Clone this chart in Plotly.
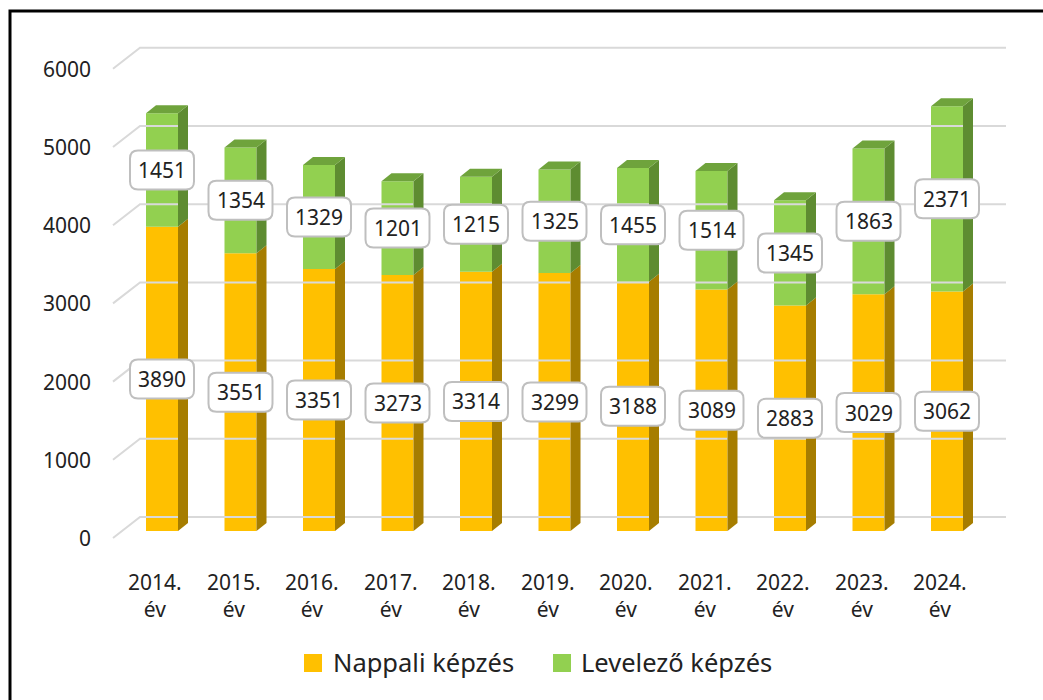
import plotly.graph_objects as go

# ---------------- data ----------------
years = ["2014.", "2015.", "2016.", "2017.", "2018.", "2019.", "2020.", "2021.", "2022.", "2023.", "2024."]
year_suffix = "év"
nappali = [3890, 3551, 3351, 3273, 3314, 3299, 3188, 3089, 2883, 3029, 3062]
levelezo = [1451, 1354, 1329, 1201, 1215, 1325, 1455, 1514, 1345, 1863, 2371]
series_names = ["Nappali képzés", "Levelező képzés"]
y_ticks = [0, 1000, 2000, 3000, 4000, 5000, 6000]

# ---------------- styling / geometry ----------------
W, H = 1043, 700
X0_PX = 162.0        # pixel of first category (bar front centre)
CAT_PX = 78.5        # pixels per category
ZERO_PX = 531.0      # pixel of value 0 on bar front plane
UNIT_PX = 0.0782     # pixels per value unit

def dx(px):  # pixel distance -> x data distance
    return px / CAT_PX

def dy(px):  # pixel distance -> y data distance
    return px / UNIT_PX

x_range = [(0 - X0_PX) / CAT_PX, (W - X0_PX) / CAT_PX]
y_range = [(ZERO_PX - H) / UNIT_PX, ZERO_PX / UNIT_PX]

BAR_W = dx(32)
DEPTH_X, DEPTH_Y = dx(10), dy(8)

C_OR = "#FFC000"; C_OR_SIDE = "#A67D00"
C_GR = "#92D050"; C_GR_SIDE = "#5E8C31"; C_GR_TOP = "#6FA33C"
GRID = "#D9D9D9"
TXT = "#222222"
FONT = "Noto Sans"

xs = list(range(len(years)))
fig = go.Figure()

# gridlines with 3D wall perspective
gx_front, gx_back, gx_end = -49 / CAT_PX, -22 / CAT_PX, (1006 - X0_PX) / CAT_PX
gy_front, gy_back = -dy(7), dy(14)
for v in y_ticks:
    fig.add_trace(go.Scatter(
        x=[gx_front, gx_back, gx_end], y=[v + gy_front, v + gy_back, v + gy_back],
        mode="lines", line=dict(color=GRID, width=2), hoverinfo="skip", showlegend=False))

# bar fronts
fig.add_trace(go.Bar(x=xs, y=nappali, base=[0] * len(xs), width=BAR_W,
                     marker=dict(color=C_OR, line=dict(width=0)), name=series_names[0],
                     showlegend=False, hoverinfo="skip"))
tops = [a + b for a, b in zip(nappali, levelezo)]
fig.add_trace(go.Bar(x=xs, y=levelezo, base=nappali, width=BAR_W,
                     marker=dict(color=C_GR, line=dict(width=0)), name=series_names[1],
                     showlegend=False, hoverinfo="skip"))

def side_poly(i, b, t):
    xr = i + BAR_W / 2
    return [xr, xr + DEPTH_X, xr + DEPTH_X, xr, xr], [b, b + DEPTH_Y, t + DEPTH_Y, t, b]

def top_poly(i, t):
    xl, xr = i - BAR_W / 2, i + BAR_W / 2
    return [xl, xl + DEPTH_X, xr + DEPTH_X, xr, xl], [t, t + DEPTH_Y, t + DEPTH_Y, t, t]

for i in xs:
    sx, sy = side_poly(i, 0, nappali[i])
    fig.add_trace(go.Scatter(x=sx, y=sy, fill="toself", fillcolor=C_OR_SIDE, mode="lines",
                             line=dict(width=0, color=C_OR_SIDE), hoverinfo="skip", showlegend=False))
    sx, sy = side_poly(i, nappali[i], tops[i])
    fig.add_trace(go.Scatter(x=sx, y=sy, fill="toself", fillcolor=C_GR_SIDE, mode="lines",
                             line=dict(width=0, color=C_GR_SIDE), hoverinfo="skip", showlegend=False))
    tx, ty = top_poly(i, tops[i])
    fig.add_trace(go.Scatter(x=tx, y=ty, fill="toself", fillcolor=C_GR_TOP, mode="lines",
                             line=dict(width=0, color=C_GR_TOP), hoverinfo="skip", showlegend=False))

shapes = []
annotations = []

# rounded label boxes
BW, BH, R = 64, 39, 8
hw, hh = BW / 2, BH / 2
box_path = (f"M{-hw + R},{-hh} L{hw - R},{-hh} Q{hw},{-hh} {hw},{-hh + R} "
            f"L{hw},{hh - R} Q{hw},{hh} {hw - R},{hh} L{-hw + R},{hh} "
            f"Q{-hw},{hh} {-hw},{hh - R} L{-hw},{-hh + R} Q{-hw},{-hh} {-hw + R},{-hh} Z")

def add_label(x, y, val):
    shapes.append(dict(type="path", xref="x", yref="y", xsizemode="pixel", ysizemode="pixel",
                       xanchor=x, yanchor=y, path=box_path, fillcolor="white",
                       line=dict(color="#BFBFBF", width=2), layer="above"))
    annotations.append(dict(x=x, y=y, xref="x", yref="y", text=str(val), showarrow=False,
                            font=dict(family=FONT, size=21, color=TXT)))

for i in xs:
    add_label(i, nappali[i] / 2, nappali[i])
    add_label(i, nappali[i] + levelezo[i] / 2, levelezo[i])

# y tick labels
for v in y_ticks:
    annotations.append(dict(x=gx_front, y=v + gy_front, xref="x", yref="y", text=str(v),
                            showarrow=False, xanchor="right", xshift=-20,
                            font=dict(family=FONT, size=21, color=TXT)))

# category labels (two lines)
for i, yr in enumerate(years):
    annotations.append(dict(x=i - dx(7), y=(ZERO_PX - 595) / UNIT_PX, xref="x", yref="y",
                            text=f"{yr}<br>{year_suffix}", showarrow=False, yanchor="middle",
                            font=dict(family=FONT, size=21, color=TXT)))

# legend (manual)
def px2paper_x(px):
    return px / W

def px2paper_y(py):
    return 1 - py / H

for (sq_x, txt_x, col, name) in [(304, 331, C_OR, series_names[0]), (553, 579, C_GR, series_names[1])]:
    shapes.append(dict(type="rect", xref="paper", yref="paper",
                       x0=px2paper_x(sq_x), x1=px2paper_x(sq_x + 18),
                       y0=px2paper_y(672), y1=px2paper_y(654),
                       fillcolor=col, line=dict(width=0)))
    annotations.append(dict(x=px2paper_x(txt_x), y=px2paper_y(662), xref="paper", yref="paper",
                            text=name, showarrow=False, xanchor="left", yanchor="middle",
                            font=dict(family=FONT, size=25.5, color=TXT)))

# outer frame (only left/top edges visible)
shapes.append(dict(type="rect", xref="paper", yref="paper",
                   x0=px2paper_x(10), x1=1.05, y0=-0.05, y1=px2paper_y(11),
                   line=dict(color="black", width=3), fillcolor="rgba(0,0,0,0)", layer="above"))

fig.update_layout(
    width=W, height=H, margin=dict(l=0, r=0, t=0, b=0),
    paper_bgcolor="white", plot_bgcolor="white",
    xaxis=dict(range=x_range, visible=False, fixedrange=True),
    yaxis=dict(range=y_range, visible=False, fixedrange=True),
    barmode="overlay", showlegend=False, hovermode=False,
    shapes=shapes, annotations=annotations,
)

fig.write_html("out.html", config={"displayModeBar": False},
               post_script="document.body.style.margin='0';document.body.style.overflow='hidden';")
